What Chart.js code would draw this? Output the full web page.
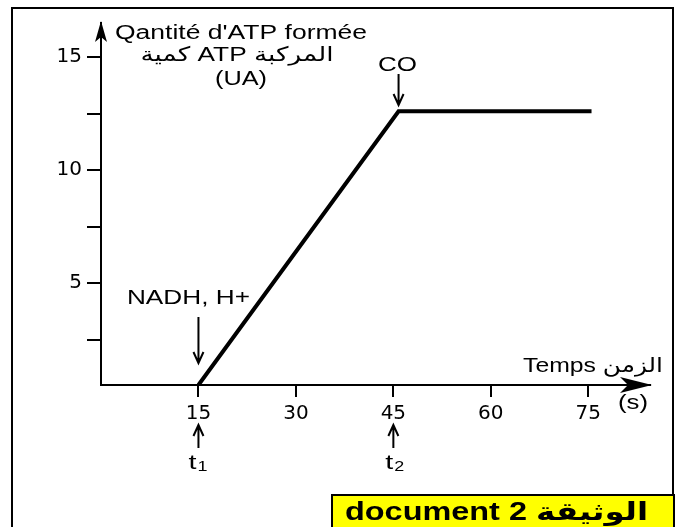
<!DOCTYPE html>
<html>
<head>
<meta charset="utf-8">
<script src="https://cdn.jsdelivr.net/npm/chart.js@4.4.1/dist/chart.umd.min.js"></script>
<style>
  html, body { margin: 0; padding: 0; background: #fff; }
  #wrap { width: 685px; height: 527px; }
</style>
</head>
<body>
<div id="wrap"><canvas id="atp-chart"></canvas></div>
<script>
// values
const times = [15, 45.8, 75.5];          // s
const atp = [0.5, 12.6, 12.6];           // UA
const xTicks = [15, 30, 45, 60, 75];
const yTicks = [2.5, 5, 7.5, 10, 12.5, 15];
const yLabelled = [5, 10, 15];

const FONT = '"Liberation Sans", Arial, "DejaVu Sans", sans-serif';
const TICKFONT = '"DejaVu Sans", sans-serif';

const points = times.map((t, i) => ({ x: t, y: atp[i] }));

// the text in the picture is stretched sideways, so squeeze/stretch to a width
const fitText = (ctx, text, x, y, width, align) => {
    const w = ctx.measureText(text).width;
    ctx.save();
    ctx.translate(x, y);
    ctx.scale(width / w, 1);
    ctx.textAlign = align;
    ctx.fillText(text, 0, 0);
    ctx.restore();
};

const downArrow = (ctx, x, y1, y2) => {
    ctx.beginPath();
    ctx.moveTo(x, y1); ctx.lineTo(x, y2);
    ctx.moveTo(x - 5, y2 - 11); ctx.lineTo(x, y2); ctx.lineTo(x + 5, y2 - 11);
    ctx.stroke();
};
const upArrow = (ctx, x, y1, y2) => {
    ctx.beginPath();
    ctx.moveTo(x, y1); ctx.lineTo(x, y2);
    ctx.moveTo(x - 5, y2 + 11); ctx.lineTo(x, y2); ctx.lineTo(x + 5, y2 + 11);
    ctx.stroke();
};

const decorations = {
    id: 'decorations',
    beforeDraw(chart) {
        const ctx = chart.ctx;
        ctx.save();
        ctx.fillStyle = '#fff';
        ctx.fillRect(0, 0, chart.width, chart.height);
        ctx.strokeStyle = '#000';
        ctx.lineWidth = 2;
        ctx.strokeRect(12, 8, 661, 540);
        ctx.restore();
    },
    afterDraw(chart) {
        const ctx = chart.ctx;
        const xs = chart.scales.x, ys = chart.scales.y;
        const area = chart.chartArea;
        ctx.save();
        ctx.fillStyle = '#000';
        ctx.strokeStyle = '#000';

        // axis arrow heads
        const ax = xs.left, ay = ys.bottom;
        ctx.beginPath();
        ctx.moveTo(ax, area.top - 2);
        ctx.lineTo(ax + 6, area.top + 19);
        ctx.lineTo(ax, area.top + 14);
        ctx.lineTo(ax - 6, area.top + 19);
        ctx.closePath();
        ctx.fill();
        ctx.beginPath();
        ctx.moveTo(area.right + 2, ay);
        ctx.lineTo(area.right - 30, ay - 8);
        ctx.lineTo(area.right - 22, ay);
        ctx.lineTo(area.right - 30, ay + 8);
        ctx.closePath();
        ctx.fill();

        ctx.font = '20px ' + FONT;
        ctx.textBaseline = 'middle';
        fitText(ctx, "Qantité d'ATP formée", 115, 33, 252, 'left');
        fitText(ctx, 'كمية ATP المركبة', 237, 55, 193, 'center');
        fitText(ctx, '(UA)', 241, 79, 52, 'center');

        fitText(ctx, 'Temps الزمن', 523, 366, 140, 'left');
        fitText(ctx, '(s)', 633, 403, 30, 'center');

        // CO and NADH arrows
        ctx.lineWidth = 2;
        const xCO = xs.getPixelForValue(times[1]);
        fitText(ctx, 'CO', xCO - 1, 65, 39, 'center');
        downArrow(ctx, xCO, 74, 105);
        const xN = xs.getPixelForValue(times[0]);
        fitText(ctx, 'NADH, H+', xN - 10, 298, 123, 'center');
        downArrow(ctx, xN, 317, 363);

        // t1, t2
        const x15 = xs.getPixelForValue(15), x45 = xs.getPixelForValue(45);
        upArrow(ctx, x15, 448, 425);
        upArrow(ctx, x45, 448, 425);
        fitText(ctx, 't', x15 - 10, 463, 8, 'left');
        fitText(ctx, 't', x45 - 8, 463, 8, 'left');
        ctx.font = '14px ' + FONT;
        fitText(ctx, '1', x15 - 1, 467, 10, 'left');
        fitText(ctx, '2', x45 + 1, 467, 10, 'left');

        // document label
        ctx.fillStyle = '#ffff00';
        ctx.fillRect(332, 495, 342, 40);
        ctx.lineWidth = 2;
        ctx.strokeRect(332, 495, 342, 40);
        ctx.fillStyle = '#000';
        ctx.font = 'bold 25px ' + FONT;
        fitText(ctx, 'document 2 الوثيقة', 345, 513, 303, 'left');
        ctx.restore();
    }
};

new Chart(document.getElementById('atp-chart'), {
    type: 'line',
    data: {
        datasets: [{
            data: points,
            borderColor: '#000',
            borderWidth: 4,
            pointRadius: 0,
            tension: 0,
            fill: false
        }]
    },
    options: {
        responsive: true,
        maintainAspectRatio: false,
        animation: false,
        events: [],
        layout: { padding: { left: 0, top: 23, right: 35, bottom: 0 } },
        plugins: { legend: { display: false }, tooltip: { enabled: false } },
        scales: {
            x: {
                type: 'linear',
                min: 0,
                max: 84.5,
                afterBuildTicks: (s) => { s.ticks = xTicks.map(v => ({ value: v })); },
                afterFit: (s) => { s.height = 142; },
                border: { display: true, color: '#000', width: 2 },
                grid: { drawOnChartArea: false, color: '#000', lineWidth: 2, tickLength: 12 },
                ticks: { color: '#000', padding: 5, font: { size: 20, family: TICKFONT } }
            },
            y: {
                type: 'linear',
                min: 0.5,
                max: 16.5,
                afterBuildTicks: (s) => { s.ticks = yTicks.map(v => ({ value: v })); },
                afterFit: (s) => { s.width = 101; },
                border: { display: true, color: '#000', width: 2 },
                grid: { drawOnChartArea: false, color: '#000', lineWidth: 2, tickLength: 14 },
                ticks: {
                    color: '#000',
                    padding: 5,
                    font: { size: 20, family: TICKFONT },
                    callback: (v) => yLabelled.includes(v) ? String(v) : ''
                }
            }
        }
    },
    plugins: [decorations]
});
</script>
</body>
</html>
